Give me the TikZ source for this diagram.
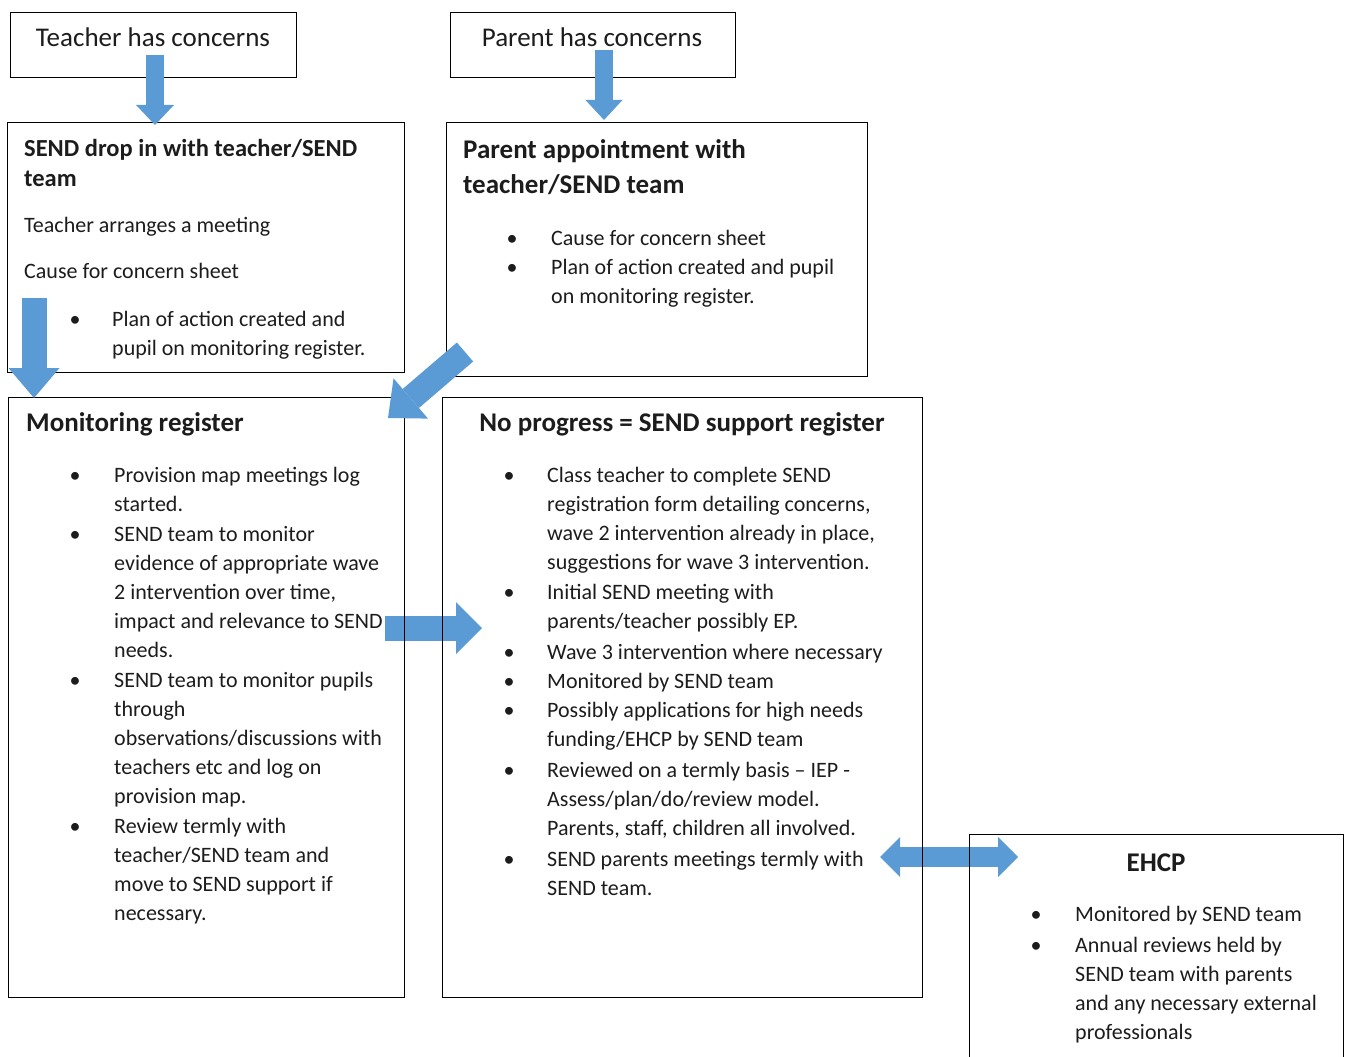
\documentclass[tikz,border=0pt]{standalone}
\usepackage{fontspec}
\setmainfont{Carlito}
\usetikzlibrary{arrows.meta,backgrounds}

\definecolor{arrowblue}{HTML}{5B9BD5}
\definecolor{inkgrey}{HTML}{1C1C1C}

\newcommand\bodyfont{\fontsize{22}{29}\selectfont}
\newcommand\headfont{\fontsize{27}{35}\selectfont\bfseries}
\newcommand\bul{\makebox[0pt]{\textbullet}}
\newcommand\blist[2][39pt]{{\bodyfont\begin{tabular}[t]{@{}p{#1}@{}l@{}}#2\end{tabular}}}

\begin{document}
\begin{tikzpicture}[x=1pt,y=-1pt,
  panel/.style={draw,line width=1.3pt,anchor=north west,inner sep=0pt},
  txt/.style={anchor=base west,inner sep=0pt,text=inkgrey},
  blockarrow/.style n args={3}{draw=arrowblue,line width=#1,
    -{Triangle[width=#2,length=#3,line width=0pt,fill=arrowblue]}}]
 \clip (0,0) rectangle (1345,1057);

 % BOXES
 \node[panel,minimum width=286,minimum height=65] (teacher) at (10,12) {};
 \node[panel,minimum width=285,minimum height=65] (parent) at (450,12) {};
 \node[panel,minimum width=397,minimum height=250] (dropin) at (7,122) {};
 \node[panel,minimum width=421,minimum height=254] (appt) at (446,122) {};
 \node[panel,minimum width=396,minimum height=600] (monitor) at (8,397) {};
 \node[panel,minimum width=480,minimum height=600] (support) at (442,397) {};
 \node[panel,minimum width=374,minimum height=260] (ehcp) at (969,834) {};

 % Top boxes
 \node[txt,anchor=base] (teachertxt) at (153,47) {\fontsize{27}{32}\selectfont Teacher has concerns};
 \node[txt,anchor=base] (parenttxt) at (592,47) {\fontsize{27}{32}\selectfont Parent has concerns};

 % SEND drop in
 \node[txt] (dropinhead) at (24,157) {\fontsize{24.5}{30}\selectfont\bfseries
   \begin{tabular}[t]{@{}l@{}}SEND drop in with teacher/SEND\\team\end{tabular}};
 \node[txt] (dropinmeet) at (24,232) {\bodyfont Teacher arranges a meeting};
 \node[txt] (dropinsheet) at (24,278) {\bodyfont Cause for concern sheet};
 \node[txt] (dropinlist) at (75,326) {\blist[37pt]{
   \bul & Plan of action created and\\
        & pupil on monitoring register.}};

 % Parent appointment
 \node[txt] (appthead) at (463,158) {\headfont
   \begin{tabular}[t]{@{}l@{}}Parent appointment with\\teacher/SEND team\end{tabular}};
 \node[txt] (apptlist) at (512,245) {\blist{
   \bul & Cause for concern sheet\\
   \bul & Plan of action created and pupil\\
        & on monitoring register.}};

 % Monitoring register
 \node[txt] (monitorhead) at (26,431) {\headfont Monitoring register};
 \node[txt] (monitorlist) at (75,482) {\blist{
   \bul & Provision map meetings log\\
        & started.\\[1pt]
   \bul & SEND team to monitor\\
        & evidence of appropriate wave\\
        & 2 intervention over time,\\
        & impact and relevance to SEND\\
        & needs.\\[1pt]
   \bul & SEND team to monitor pupils\\
        & through\\
        & observations/discussions with\\
        & teachers etc and log on\\
        & provision map.\\[1pt]
   \bul & Review termly with\\
        & teacher/SEND team and\\
        & move to SEND support if\\
        & necessary.}};

 % SEND support register
 \node[txt,anchor=base] (supporthead) at (682,431) {\headfont No progress = SEND support register};
 \node[txt] (supportlist) at (509,482) {\blist[38pt]{
   \bul & Class teacher to complete SEND\\
        & registration form detailing concerns,\\
        & wave 2 intervention already in place,\\
        & suggestions for wave 3 intervention.\\[1.8pt]
   \bul & Initial SEND meeting with\\
        & parents/teacher possibly EP.\\[1.8pt]
   \bul & Wave 3 intervention where necessary\\
   \bul & Monitored by SEND team\\
   \bul & Possibly applications for high needs\\
        & funding/EHCP by SEND team\\[1.8pt]
   \bul & Reviewed on a termly basis -- IEP -\\
        & Assess/plan/do/review model.\\
        & Parents, staff, children all involved.\\[1.8pt]
   \bul & SEND parents meetings termly with\\
        & SEND team.}};

 % EHCP
 \node[txt,anchor=base] (ehcphead) at (1156,871) {\headfont EHCP};
 \node[txt] (ehcplist) at (1036,921) {\blist{
   \bul & Monitored by SEND team\\[2pt]
   \bul & Annual reviews held by\\
        & SEND team with parents\\
        & and any necessary external\\
        & professionals}};

 % ARROWS
 \coordinate (a1s) at (155,55);   \coordinate (a1e) at (155,125);
 \coordinate (a2s) at (604,50);   \coordinate (a2e) at (604,120);
 \coordinate (a3s) at (34,298);   \coordinate (a3e) at (34,398);
 \coordinate (a4s) at (465,352);  \coordinate (a4e) at (388,418);
 \coordinate (a5s) at (385,628);  \coordinate (a5e) at (482,628);
 \coordinate (a6m) at (946,857);
 \coordinate (a6l) at (880,857);  \coordinate (a6r) at (1018,857);

 \draw[blockarrow={18pt}{38pt}{20pt}] (a1s) -- (a1e);
 \draw[blockarrow={18pt}{37pt}{20pt}] (a2s) -- (a2e);
 \draw[blockarrow={25pt}{51pt}{30pt}] (a3s) -- (a3e);
 \draw[blockarrow={25pt}{53pt}{30pt}] (a4s) -- (a4e);

 \begin{pgfonlayer}{background}
  \draw[blockarrow={25pt}{52pt}{26pt}] (a5s) -- (a5e);
  \draw[blockarrow={20pt}{40pt}{20pt}] (a6m) -- (a6l);
  \draw[blockarrow={20pt}{40pt}{20pt}] (a6m) -- (a6r);
 \end{pgfonlayer}
\end{tikzpicture}
\end{document}
